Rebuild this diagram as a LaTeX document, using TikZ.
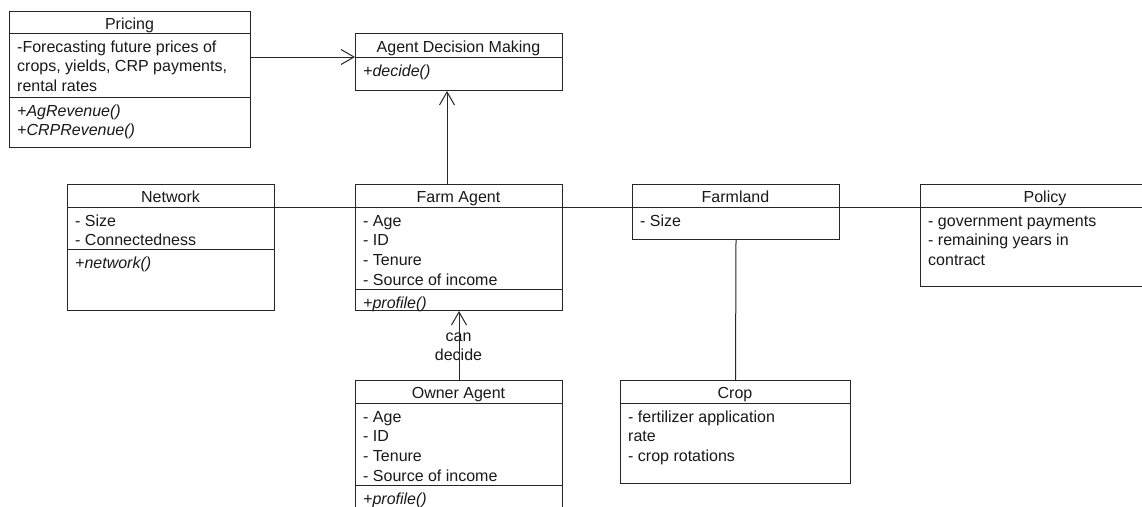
\documentclass[tikz,border=0pt]{standalone}
\usepackage{fontspec}
\setmainfont{Liberation Sans}
\usetikzlibrary{arrows.meta,calc}
\tikzset{
 cls/.style={draw=black!85, line width=1pt, rectangle, inner sep=0pt, anchor=north west, fill=white},
 ttl/.style={anchor=base, inner sep=0pt, text=black!90, font=\fontsize{16}{19.7}\selectfont},
 attr/.style={anchor=base west, inner sep=0pt, text=black!90, font=\fontsize{16}{19.7}\selectfont},
 meth/.style={anchor=base west, inner sep=0pt, text=black!90, font=\fontsize{16}{19.7}\selectfont\itshape},
 sep/.style={draw=black!85, line width=1pt},
 conn/.style={draw=black!85, line width=1pt},
 arr/.style={conn, -{Straight Barb[length=13pt,width=15pt]}},
}
\begin{document}
\begin{tikzpicture}[x=1pt,y=-1pt]
\useasboundingbox (0,0) rectangle (1142,506);
\clip (0,0) rectangle (1142,506);
\fill[white] (0,0) rectangle (1142,506);

% Pricing
\node[cls, minimum width=241pt, minimum height=136pt] (pricing) at (9,11) {};
\draw[sep] (9,33) -- (250,33);
\draw[sep] (9,97) -- (250,97);
\node[ttl] (p-t) at (129.5,29) {Pricing};
\node[attr] (p-a1) at (17,52) {-Forecasting future prices of};
\node[attr] (p-a2) at (17,71.7) {crops, yields, CRP payments,};
\node[attr] (p-a3) at (17,91.4) {rental rates};
\node[meth] (p-m1) at (17,116) {+AgRevenue()};
\node[meth] (p-m2) at (17,135.7) {+CRPRevenue()};

% Agent Decision Making
\node[cls, minimum width=207pt, minimum height=57pt] (adm) at (355,33) {};
\draw[sep] (355,57) -- (562,57);
\node[ttl] (adm-t) at (458.5,52) {Agent Decision Making};
\node[meth] (adm-m1) at (363,76) {+decide()};

% Network
\node[cls, minimum width=207pt, minimum height=126pt] (network) at (67,184) {};
\draw[sep] (67,207) -- (274,207);
\draw[sep] (67,249) -- (274,249);
\node[ttl] (n-t) at (170.5,202.5) {Network};
\node[attr] (n-a1) at (75,226) {- Size};
\node[attr] (n-a2) at (75,245.7) {- Connectedness};
\node[meth] (n-m1) at (75,268) {+network()};

% Farm Agent
\node[cls, minimum width=207pt, minimum height=126pt] (farm) at (355,184) {};
\draw[sep] (355,207) -- (562,207);
\draw[sep] (355,289) -- (562,289);
\node[ttl] (f-t) at (458.5,202.5) {Farm Agent};
\node[attr] (f-a1) at (363,226) {- Age};
\node[attr] (f-a2) at (363,245.7) {- ID};
\node[attr] (f-a3) at (363,265.4) {- Tenure};
\node[attr] (f-a4) at (363,285.1) {- Source of income};
\node[meth] (f-m1) at (363,308) {+profile()};

% Farmland
\node[cls, minimum width=207pt, minimum height=55pt] (farmland) at (632,184) {};
\draw[sep] (632,207) -- (839,207);
\node[ttl] (fl-t) at (735.5,202.5) {Farmland};
\node[attr] (fl-a1) at (640,226) {- Size};

% Policy
\node[cls, minimum width=250pt, minimum height=102pt] (policy) at (920,184) {};
\draw[sep] (920,207) -- (1170,207);
\node[ttl] (po-t) at (1045,202.5) {Policy};
\node[attr] (po-a1) at (928,226) {- government payments};
\node[attr] (po-a2) at (928,245.7) {- remaining years in};
\node[attr] (po-a3) at (928,265.4) {contract};

% Crop
\node[cls, minimum width=230pt, minimum height=103pt] (crop) at (620,380) {};
\draw[sep] (620,403) -- (850,403);
\node[ttl] (c-t) at (735,398.5) {Crop};
\node[attr] (c-a1) at (628,422) {- fertilizer application};
\node[attr] (c-a2) at (628,441.7) {rate};
\node[attr] (c-a3) at (628,461.4) {- crop rotations};

% Owner Agent
\node[cls, minimum width=207pt, minimum height=150pt] (owner) at (355,380) {};
\draw[sep] (355,403) -- (562,403);
\draw[sep] (355,485) -- (562,485);
\node[ttl] (o-t) at (458.5,398.5) {Owner Agent};
\node[attr] (o-a1) at (363,422) {- Age};
\node[attr] (o-a2) at (363,441.7) {- ID};
\node[attr] (o-a3) at (363,461.4) {- Tenure};
\node[attr] (o-a4) at (363,481.1) {- Source of income};
\node[meth] (o-m1) at (363,504) {+profile()};

% label
\node[ttl] (lbl1) at (458.5,341) {can};
\node[ttl] (lbl2) at (458.5,360.5) {decide};

% connectors
\draw[arr] (pricing.east |- 0,57) -- (adm.west |- 0,57);
\draw[arr] (farm.north -| 447,0) -- (adm.south -| 447,0);
\draw[arr] (owner.north -| 459,0) -- (farm.south -| 459,0);
\draw[conn] (network.east |- 0,207) -- (farm.west |- 0,207);
\draw[conn] (farm.east |- 0,207) -- (farmland.west |- 0,207);
\draw[conn] (farmland.east |- 0,207) -- (policy.west |- 0,207);
\draw[conn] (farmland.south) -- (crop.north);
\end{tikzpicture}
\end{document}
